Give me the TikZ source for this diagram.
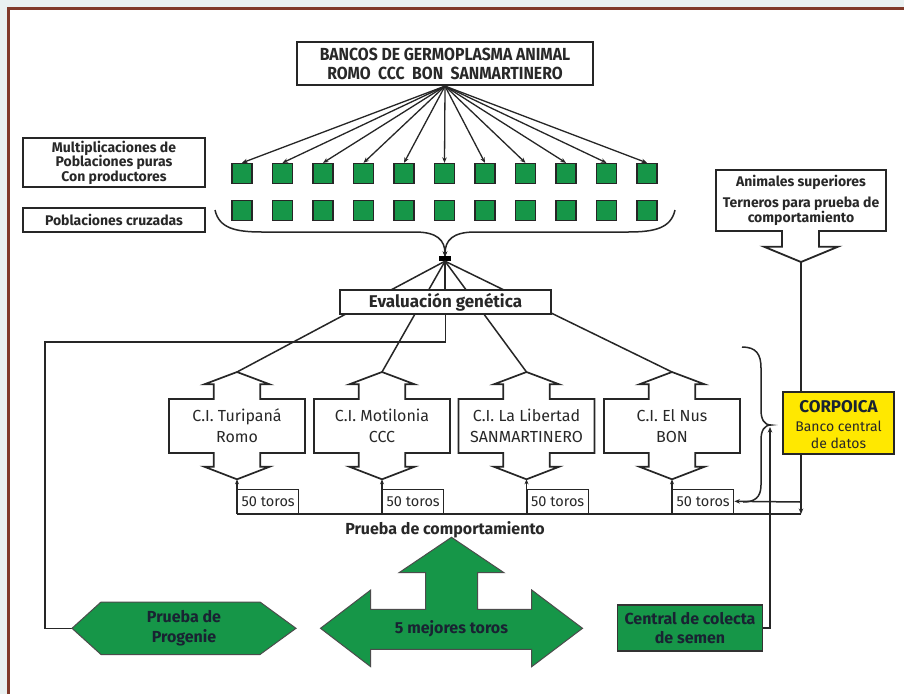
\documentclass[tikz,border=0pt]{standalone}
\usepackage{fontspec}
\setmainfont{Fira Sans}
\newfontfamily\condfont[FakeStretch=0.9]{Fira Sans}
\usetikzlibrary{arrows.meta}
\definecolor{grn}{RGB}{22,150,72}
\definecolor{yel}{RGB}{255,232,0}
\definecolor{framec}{RGB}{128,58,42}
\definecolor{bgc}{RGB}{233,241,241}
\definecolor{txt}{RGB}{40,40,40}
\definecolor{navy}{RGB}{25,35,50}
\newcommand\myfs[2]{\fontsize{#1}{#2}\selectfont}
\begin{document}
\begin{tikzpicture}[x=1pt,y=-1pt,
  ln/.style={line width=1.5pt, draw=black!85},
  arr/.style={ln, -{Stealth[length=5.5pt,width=4.5pt]}},
  box/.style={draw=black!85, line width=1.8pt, fill=white, align=center, inner sep=0pt, text=txt},
  sq/.style={draw=black!85, line width=1.3pt, fill=grn, minimum size=20pt, inner sep=0pt},
  gshape/.style={draw=black!70, line width=1pt, fill=grn},
  lbl/.style={align=center, text=txt, inner sep=0pt}]
\useasboundingbox (0,0) rectangle (904,694);
\fill[bgc] (0,0) rectangle (904,694);
\fill[white] (8,8) rectangle (904,694);
\draw[framec, line width=3pt] (8,694) -- (8,8) -- (904,8);

% top box
\node[box, line width=2.2pt, minimum width=296pt, minimum height=43pt, font=\condfont\bfseries\myfs{17.5}{19}] (banks) at (445,63.5)
  {BANCOS DE GERMOPLASMA ANIMAL\\ROMO\ \ CCC\ \ BON\ \ SANMARTINERO};

% squares and fan
\foreach \i in {0,...,10}{
  \pgfmathsetmacro\cx{242+40.5*\i}
  \node[sq] (a\i) at (\cx,173.5) {};
  \node[sq] (b\i) at (\cx,210.5) {};
  \draw[arr, line width=1.3pt] (banks.south) -- (a\i.north);
}

% left labels
\node[box, line width=1.6pt, minimum width=182pt, minimum height=49pt, font=\bfseries\myfs{14}{14.5}] (mult) at (114,162.5)
  {Multiplicaciones de\\Poblaciones puras\\Con productores};
\node[box, line width=1.6pt, minimum width=182pt, minimum height=24pt, font=\bfseries\myfs{14}{15}] (cruz) at (114,219.7)
  {Poblaciones cruzadas};

% converging brace
\coordinate (hub) at (445,257);
\coordinate (bl) at (215,210);
\coordinate (br) at (675,210);
\draw[arr] (bl) .. controls (219,228) and (235,232) .. (262,232) -- (415,232) .. controls (437,232) and (445,240) .. (hub);
\draw[arr] (br) .. controls (671,228) and (655,232) .. (628,232) -- (475,232) .. controls (453,232) and (445,240) .. (hub);
\node[fill=black, minimum width=12pt, minimum height=5pt, inner sep=0pt] (hubbar) at (445,258.5) {};

% CI shapes
\foreach \cx/\nm/\la/\lb in {237/tur/{C.I. Turipaná}/Romo, 382/mot/{C.I. Motilonia}/CCC, 526.5/lib/{C.I. La Libertad}/SANMARTINERO, 672/nus/{C.I. El Nus}/BON}{
  \coordinate (\nm-top) at (\cx,372);
  \coordinate (\nm-bot) at (\cx,479.3);
  \draw[ln] (hubbar.south) -- (\nm-top);
  \draw[ln, fill=white, line width=1.7pt] (\cx,372) -- ({\cx+32.7},384.3) -- ({\cx+23.3},384.3) -- ({\cx+23.3},399) -- ({\cx+68},399) -- ({\cx+68},453) -- ({\cx+23.3},453) -- ({\cx+23.3},466.7) -- ({\cx+32.7},466.7) -- (\cx,479.3) -- ({\cx-32.7},466.7) -- ({\cx-23.3},466.7) -- ({\cx-23.3},453) -- ({\cx-68},453) -- ({\cx-68},399) -- ({\cx-23.3},399) -- ({\cx-23.3},384.3) -- ({\cx-32.7},384.3) -- cycle;
  \node[lbl, font=\myfs{16}{21}] (\nm) at (\cx,426) {\la\\\lb};
  \node[draw=black!85, line width=1.4pt, anchor=south west, minimum width=61pt, minimum height=24pt, inner sep=0pt, text=txt, font=\myfs{14.5}{16}] (\nm-50) at (\cx,514) {50 toros};
  \draw[ln, -{Stealth[length=5pt,width=4pt]}] (\nm-50.south west) -- (\nm-bot);
}

% evaluacion genetica
\draw[ln] (hubbar.south) -- (445,290);
\node[box, line width=1.8pt, minimum width=211pt, minimum height=24pt, font=\bfseries\myfs{17}{19}] (eval) at (445.5,302) {Evaluación genética};

% return line to progenie
\coordinate (progL) at (72,628.3);
\draw[ln] (eval.south) -- (445.5,342) -- (45,342) -- (45,628.3) -- (progL);

% baseline
\coordinate (rb) at (801,514);
\coordinate (rj) at (801,502);
\draw[ln] (tur-50.south west) -- (rb);

% animales superiores
\draw[ln, fill=white, line width=1.8pt] (716,170) -- (886,170) -- (886,231) -- (819,231) -- (819,246.7) -- (838,246.7) -- (801,262) -- (764,246.7) -- (782,246.7) -- (782,231) -- (716,231) -- cycle;
\coordinate (animtip) at (801,262);
\node[lbl, font=\bfseries\myfs{14}{15}] (anim1) at (801,182) {Animales superiores};
\node[lbl, font=\bfseries\myfs{14}{15}] (anim2) at (801,211.5) {Terneros para prueba de\\comportamiento};
\draw[arr] (animtip) -- (rb);
\draw[arr] (rj) -- (nus-50.east);

% corpoica
\node[draw=black!85, line width=1.6pt, fill=yel, minimum width=111pt, minimum height=62pt, inner sep=0pt] (corp) at (838.5,423) {};
\node[lbl, text=navy, font=\bfseries\myfs{17}{19}] (corpt) at (838.5,407) {CORPOICA};
\node[lbl, font=\myfs{14}{17}] (corps) at (838.5,434.5) {Banco central\\de datos};

% brace
\coordinate (btop) at (742,347);
\coordinate (bbot) at (743,502);
\coordinate (btip) at (771,425);
\draw[ln] (btop) .. controls (756,347) and (761,354) .. (761,368) -- (761,410) .. controls (761,419) and (764,425) .. (btip)
  .. controls (764,425) and (761,431) .. (761,440) -- (761,485) .. controls (761,498) and (754,502) .. (bbot);

% central de colecta
\node[draw=black!80, line width=1.3pt, fill=grn, minimum width=145pt, minimum height=46pt, inner sep=0pt, align=center, text=navy, font=\bfseries\myfs{16}{19}] (cent) at (690,628)
  {Central de colecta\\de semen};
\draw[ln, -{Stealth[length=5.5pt,width=4.5pt]}] (cent.east) -- (770,628) -- (770,427);

% prueba de comportamiento
\node[lbl, font=\bfseries\myfs{16}{18}] (pcomp) at (445,530) {Prueba de comportamiento};

% 5 mejores toros
\draw[gshape] (451.5,537.3) -- (504,572.7) -- (477.5,572.7) -- (477.5,609.3) -- (531.7,609.3) -- (531.7,590) -- (582.5,628.3) -- (531.7,666.7) -- (531.7,649.3) -- (370.7,649.3) -- (370.7,666.7) -- (320.5,628.3) -- (370.7,590) -- (370.7,609.3) -- (425.5,609.3) -- (425.5,572.7) -- (399,572.7) -- cycle;
\node[lbl, text=navy, font=\bfseries\myfs{16}{18}] (mej) at (451.5,629) {5 mejores toros};

% prueba de progenie
\draw[gshape] (progL) -- (101,602) -- (260,602) -- (296,628.3) -- (260,654.5) -- (101,654.5) -- cycle;
\node[lbl, text=navy, font=\bfseries\myfs{16}{20}] (prog) at (184,628.3) {Prueba de\\Progenie};
\end{tikzpicture}
\end{document}
